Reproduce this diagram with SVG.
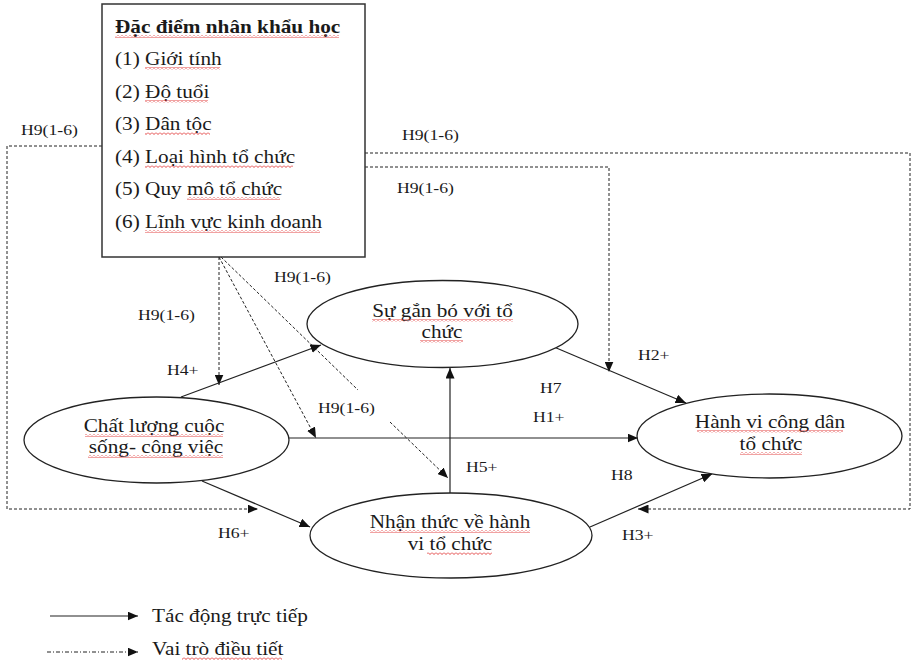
<svg xmlns="http://www.w3.org/2000/svg" width="913" height="662" viewBox="0 0 913 662">
<style>
  .t { font-family: "Liberation Serif", "Times New Roman", serif; font-size: 18px; fill: #1a1a1a; }
  .b { font-weight: bold; }
  .lbl { font-family: "Liberation Serif", "Times New Roman", serif; font-size: 15px; fill: #1a1a1a; }
  .mid { text-anchor: middle; }
  .node { fill: #ffffff; stroke: #222222; stroke-width: 1.3; }
  .solid { fill: none; stroke: #222222; stroke-width: 1.2; marker-end: url(#ah); }
  .dash { fill: none; stroke: #222222; stroke-width: 1; stroke-dasharray: 3 2; }
  .dasharrow { marker-end: url(#ah); }
  .dashdot { fill: none; stroke: #222222; stroke-width: 1; stroke-dasharray: 4 2 1 2; marker-end: url(#ah); }
  .sq { fill: url(#squig); }
</style>
<defs>
  <marker id="ah" markerUnits="userSpaceOnUse" markerWidth="11" markerHeight="9" refX="10.5" refY="4.5" orient="auto">
    <path d="M0,0 L10.5,4.5 L0,9 z" fill="#111111"/>
  </marker>
  <pattern id="squig" patternUnits="userSpaceOnUse" width="4" height="3">
    <path d="M0,0.5 L2,2.5 L4,0.5" fill="none" stroke="#e03030" stroke-width="0.9"/>
  </pattern>
</defs>
<rect width="913" height="662" fill="#ffffff"/>

<g id="connectors">
  <!-- moderation (dashed) -->
  <polyline class="dash dasharrow" points="102,146 7,146 7,509 258,509"/>
  <polyline class="dash dasharrow" points="365,153 910,153 910,509 638,509"/>
  <polyline class="dash dasharrow" points="365,167 609,167 609,372"/>
  <line class="dash dasharrow" x1="219" y1="257" x2="219" y2="385"/>
  <line class="dash dasharrow" x1="219" y1="257" x2="316" y2="438"/>
  <line class="dash" x1="221" y1="257" x2="358" y2="390"/>
  <line class="dash dasharrow" x1="390" y1="422" x2="448" y2="478"/>
  <!-- direct effects -->
  <line class="solid" x1="181" y1="397" x2="321" y2="345"/>
  <line class="solid" x1="289" y1="438" x2="638" y2="438"/>
  <line class="solid" x1="450" y1="493" x2="450" y2="368"/>
  <line class="solid" x1="554" y1="347" x2="686" y2="403"/>
  <line class="solid" x1="202" y1="481" x2="310" y2="527"/>
  <line class="solid" x1="590" y1="527" x2="712" y2="474"/>
</g>

<g id="labels">
  <text class="lbl" transform="translate(21,135) scale(1.18,1)">H9(1-6)</text>
  <text class="lbl" transform="translate(402,140) scale(1.18,1)">H9(1-6)</text>
  <text class="lbl" transform="translate(397,193) scale(1.18,1)">H9(1-6)</text>
  <text class="lbl" transform="translate(274,282) scale(1.18,1)">H9(1-6)</text>
  <text class="lbl" transform="translate(138,320) scale(1.18,1)">H9(1-6)</text>
  <text class="lbl" transform="translate(318,413) scale(1.18,1)">H9(1-6)</text>
  <text class="lbl" transform="translate(167,375) scale(1.18,1)">H4+</text>
  <text class="lbl" transform="translate(218,538) scale(1.18,1)">H6+</text>
  <text class="lbl" transform="translate(638,360) scale(1.18,1)">H2+</text>
  <text class="lbl" transform="translate(540,393) scale(1.18,1)">H7</text>
  <text class="lbl" transform="translate(533,422) scale(1.18,1)">H1+</text>
  <text class="lbl" transform="translate(466,472) scale(1.18,1)">H5+</text>
  <text class="lbl" transform="translate(611,480) scale(1.18,1)">H8</text>
  <text class="lbl" transform="translate(622,540) scale(1.18,1)">H3+</text>
</g>

<g id="demographics">
  <rect x="102" y="4" width="263" height="253" fill="#ffffff" stroke="#333333" stroke-width="1.5"/>
  <text class="t b" transform="translate(115,33) scale(1.18,1)">Đặc điểm nhân khẩu học</text>
  <text class="t" transform="translate(115,65) scale(1.18,1)">(1) Giới tính</text>
  <text class="t" transform="translate(115,98) scale(1.18,1)">(2) Độ tuổi</text>
  <text class="t" transform="translate(115,130) scale(1.18,1)">(3) Dân tộc</text>
  <text class="t" transform="translate(115,163) scale(1.18,1)">(4) Loại hình tổ chức</text>
  <text class="t" transform="translate(115,195) scale(1.18,1)">(5) Quy mô tổ chức</text>
  <text class="t" transform="translate(115,228) scale(1.18,1)">(6) Lĩnh vực kinh doanh</text>
  <rect class="sq" x="115" y="35" width="224" height="3"/>
  <rect class="sq" x="145" y="67" width="75" height="3"/>
  <rect class="sq" x="145" y="100" width="63" height="3"/>
  <rect class="sq" x="145" y="132" width="65" height="3"/>
  <rect class="sq" x="145" y="165" width="148" height="3"/>
  <rect class="sq" x="187" y="197" width="93" height="3"/>
  <rect class="sq" x="145" y="230" width="175" height="3"/>
</g>

<g id="gan-bo">
  <ellipse class="node" cx="442.5" cy="324" rx="135.5" ry="43.5"/>
  <text class="t mid" transform="translate(442.5,317) scale(1.18,1)">Sự gắn bó với tổ</text>
  <text class="t mid" transform="translate(442,338) scale(1.18,1)">chức</text>
  <rect class="sq" x="372" y="319" width="141" height="3"/>
  <rect class="sq" x="420" y="340" width="43" height="3"/>
</g>

<g id="chat-luong">
  <ellipse class="node" cx="156.5" cy="440" rx="132.5" ry="43"/>
  <text class="t mid" transform="translate(154,432) scale(1.18,1)">Chất lượng cuộc</text>
  <text class="t mid" transform="translate(156,453) scale(1.18,1)">sống- công việc</text>
  <rect class="sq" x="85" y="434" width="138" height="3"/>
  <rect class="sq" x="88" y="455" width="135" height="3"/>
</g>

<g id="nhan-thuc">
  <ellipse class="node" cx="451" cy="535.5" rx="141" ry="42.5"/>
  <text class="t mid" transform="translate(450,528) scale(1.18,1)">Nhận thức về hành</text>
  <text class="t mid" transform="translate(450,550) scale(1.18,1)">vi tổ chức</text>
  <rect class="sq" x="370" y="530" width="160" height="3"/>
  <rect class="sq" x="427" y="552" width="65" height="3"/>
</g>

<g id="hanh-vi">
  <ellipse class="node" cx="769.5" cy="436" rx="132.5" ry="42"/>
  <text class="t mid" transform="translate(770,428) scale(1.18,1)">Hành vi công dân</text>
  <text class="t mid" transform="translate(771,450) scale(1.18,1)">tổ chức</text>
  <rect class="sq" x="697" y="430" width="146" height="3"/>
  <rect class="sq" x="740" y="452" width="62" height="3"/>
</g>

<g id="legend">
  <line class="solid" x1="50" y1="616" x2="138" y2="616"/>
  <text class="t" transform="translate(152,622) scale(1.18,1)">Tác động trực tiếp</text>
  <line class="dashdot" x1="47" y1="652" x2="138" y2="652"/>
  <text class="t" transform="translate(152,655) scale(1.18,1)">Vai trò điều tiết</text>
  <rect class="sq" x="182" y="657" width="100" height="3"/>
</g>
</svg>
